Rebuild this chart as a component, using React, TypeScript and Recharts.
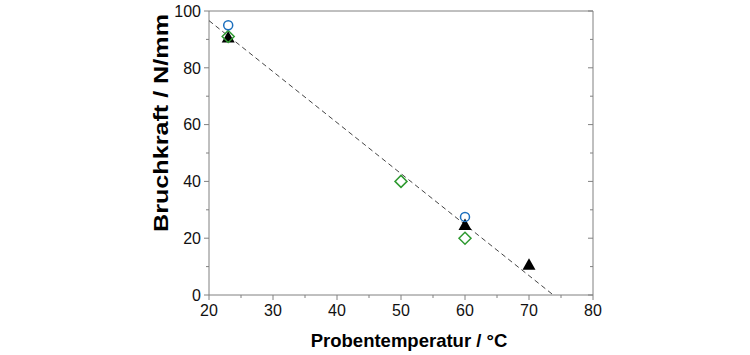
import React from "react";
import { ScatterChart, Scatter, XAxis, YAxis } from "recharts";

const xTicks = [20, 25, 30, 35, 40, 45, 50, 55, 60, 65, 70, 75, 80];
const yTicks = [0, 10, 20, 30, 40, 50, 60, 70, 80, 90, 100];

const circles = [
  { x: 23, y: 95 },
  { x: 60, y: 27.5 },
];
const diamonds = [
  { x: 23, y: 91 },
  { x: 50, y: 40 },
  { x: 60, y: 20 },
];
const triangles = [
  { x: 23, y: 90.5 },
  { x: 60, y: 24.5 },
  { x: 70, y: 10.5 },
];
// linear fit, dashed
const fit = [
  { x: 20, y: 96.6 },
  { x: 73.8, y: 0 },
];

const AXIS = "#808080";
const FONT = "'Liberation Sans', Arial, sans-serif";

const BottomTick = (p: any) => {
  const v = p.payload.value;
  const major = v % 10 === 0;
  return (
    <g>
      <line x1={p.x} x2={p.x} y1={p.y} y2={p.y + (major ? 5 : 3)} stroke={AXIS} />
      {major && (
        <text x={p.x} y={p.y + 21} textAnchor="middle" fontSize={16} fontFamily={FONT} fill="#111">
          {v}
        </text>
      )}
    </g>
  );
};

const LeftTick = (p: any) => {
  const v = p.payload.value;
  const major = v % 20 === 0;
  return (
    <g>
      <line x1={p.x} x2={p.x - (major ? 5 : 3)} y1={p.y} y2={p.y} stroke={AXIS} />
      {major && (
        <text x={p.x - 8} y={p.y} dy="0.36em" textAnchor="end" fontSize={16} fontFamily={FONT} fill="#111">
          {v}
        </text>
      )}
    </g>
  );
};

const TopTick = (p: any) => {
  const major = p.payload.value % 10 === 0;
  return <line x1={p.x} x2={p.x} y1={p.y} y2={p.y + (major ? 5 : 3)} stroke={AXIS} />;
};

const RightTick = (p: any) => {
  const major = p.payload.value % 20 === 0;
  return <line x1={p.x} x2={p.x - (major ? 5 : 3)} y1={p.y} y2={p.y} stroke={AXIS} />;
};

const Circle = (p: any) => (
  <circle cx={p.cx} cy={p.cy} r={4.5} fill="none" stroke="#1c6fbd" strokeWidth={1.5} />
);
const Diamond = (p: any) => (
  <polygon
    points={`${p.cx},${p.cy - 6} ${p.cx + 6},${p.cy} ${p.cx},${p.cy + 6} ${p.cx - 6},${p.cy}`}
    fill="none"
    stroke="#2f9a31"
    strokeWidth={1.5}
  />
);
const Triangle = (p: any) => (
  <polygon
    points={`${p.cx},${p.cy - 7} ${p.cx + 6.5},${p.cy + 4.5} ${p.cx - 6.5},${p.cy + 4.5}`}
    fill="#000"
  />
);

const XTitle = () => (
  <text x={409} y={347} textAnchor="middle" fontSize={18.5} fontWeight="bold" fontFamily={FONT} fill="#000">
    Probentemperatur / °C
  </text>
);

const YTitle = () => (
  <text
    x={0}
    y={0}
    transform="translate(168, 123) rotate(-90)"
    textAnchor="middle"
    fontSize={20}
    fontWeight="bold"
    fontFamily={FONT}
    fill="#000"
    textLength={218}
    lengthAdjust="spacingAndGlyphs"
  >
    Bruchkraft / N/mm
  </text>
);

export default function App() {
  return (
    <div style={{ position: "absolute", left: 0, top: 0 }}>
      <ScatterChart width={750} height={355} margin={{ top: 10, right: 156, bottom: 10, left: 149 }}>
        <XAxis
          xAxisId="b"
          dataKey="x"
          type="number"
          domain={[20, 80]}
          ticks={xTicks}
          interval={0}
          height={50}
          stroke={AXIS}
          tickLine={false}
          tickSize={0}
          tickMargin={0}
          tick={BottomTick}
          allowDataOverflow
          label={{ content: XTitle }}
        />
        <XAxis
          xAxisId="t"
          orientation="top"
          type="number"
          domain={[20, 80]}
          ticks={xTicks}
          interval={0}
          height={1}
          stroke={AXIS}
          tickLine={false}
          tickSize={0}
          tickMargin={0}
          tick={TopTick}
          allowDataOverflow
        />
        <YAxis
          yAxisId="l"
          dataKey="y"
          type="number"
          domain={[0, 100]}
          ticks={yTicks}
          interval={0}
          width={60}
          stroke={AXIS}
          tickLine={false}
          tickSize={0}
          tickMargin={0}
          tick={LeftTick}
          allowDataOverflow
          label={{ content: YTitle }}
        />
        <YAxis
          yAxisId="r"
          orientation="right"
          type="number"
          domain={[0, 100]}
          ticks={yTicks}
          interval={0}
          width={1}
          stroke={AXIS}
          tickLine={false}
          tickSize={0}
          tickMargin={0}
          tick={RightTick}
          allowDataOverflow
        />
        <Scatter
          xAxisId="b"
          yAxisId="l"
          data={fit}
          line={{ stroke: "#444", strokeWidth: 1, strokeDasharray: "5 3.5" }}
          shape={() => <g />}
          isAnimationActive={false}
        />
        <Scatter xAxisId="b" yAxisId="l" data={triangles} shape={Triangle} isAnimationActive={false} />
        <Scatter xAxisId="b" yAxisId="l" data={diamonds} shape={Diamond} isAnimationActive={false} />
        <Scatter xAxisId="b" yAxisId="l" data={circles} shape={Circle} isAnimationActive={false} />
      </ScatterChart>
    </div>
  );
}
